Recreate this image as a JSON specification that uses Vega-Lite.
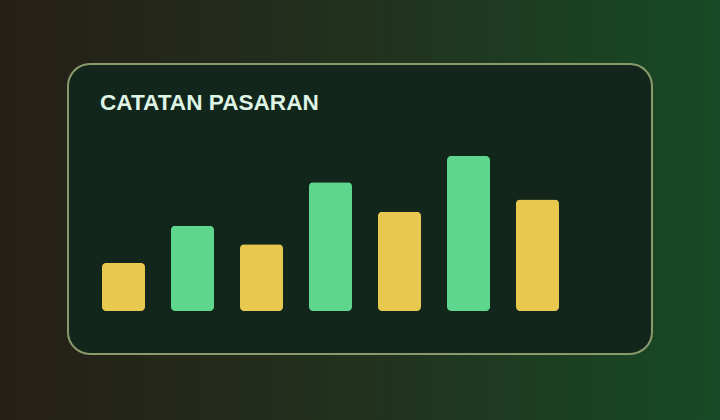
{
  "$schema": "https://vega.github.io/schema/vega-lite/v6.json",
  "autosize": "none",
  "width": 584,
  "height": 290,
  "padding": {"left": 68, "top": 64, "right": 68, "bottom": 66},
  "background": "#1f2e1d",
  "title": {
    "text": "CATATAN PASARAN",
    "anchor": "start",
    "frame": "group",
    "orient": "top",
    "offset": -52,
    "dx": 32,
    "font": "Liberation Sans",
    "fontSize": 22.6,
    "fontWeight": "bold",
    "color": "#def4e5"
  },
  "config": {
    "view": {
      "fill": "#13261b",
      "cornerRadius": 0,
      "strokeWidth": 220,
      "stroke": {
        "gradient": "linear",
        "x1": -0.116, "y1": 0.5, "x2": 1.116, "y2": 0.5,
        "stops": [
          {"offset": 0, "color": "#261f18"},
          {"offset": 0.5, "color": "#22311e"},
          {"offset": 1, "color": "#174a24"}
        ]
      }
    }
  },
  "layer": [
    {
      "data": {"values": [{"panel": "card"}]},
      "mark": {"type": "rect", "fill": "#13261b", "cornerRadius": 22, "stroke": "#8a9a6c", "strokeWidth": 2},
      "encoding": {}
    },
    {
      "data": {
        "values": [
          {"slot": "1", "kind": "kuning", "value": 31},
          {"slot": "2", "kind": "hijau", "value": 55},
          {"slot": "3", "kind": "kuning", "value": 43},
          {"slot": "4", "kind": "hijau", "value": 83},
          {"slot": "5", "kind": "kuning", "value": 64},
          {"slot": "6", "kind": "hijau", "value": 100},
          {"slot": "7", "kind": "kuning", "value": 72}
        ]
      },
      "mark": {"type": "bar", "cornerRadius": 4},
      "encoding": {
        "x": {
          "field": "slot", "type": "nominal", "axis": null,
          "scale": {"range": [34, 491], "paddingInner": 0.3768, "paddingOuter": 0}
        },
        "y": {
          "field": "value", "type": "quantitative", "axis": null,
          "scale": {"domain": [0, 100], "range": [247, 92], "nice": false, "zero": true}
        },
        "color": {
          "field": "kind", "type": "nominal", "legend": null,
          "scale": {"domain": ["kuning", "hijau"], "range": ["#e8c84e", "#5fd68e"]}
        }
      }
    }
  ]
}
